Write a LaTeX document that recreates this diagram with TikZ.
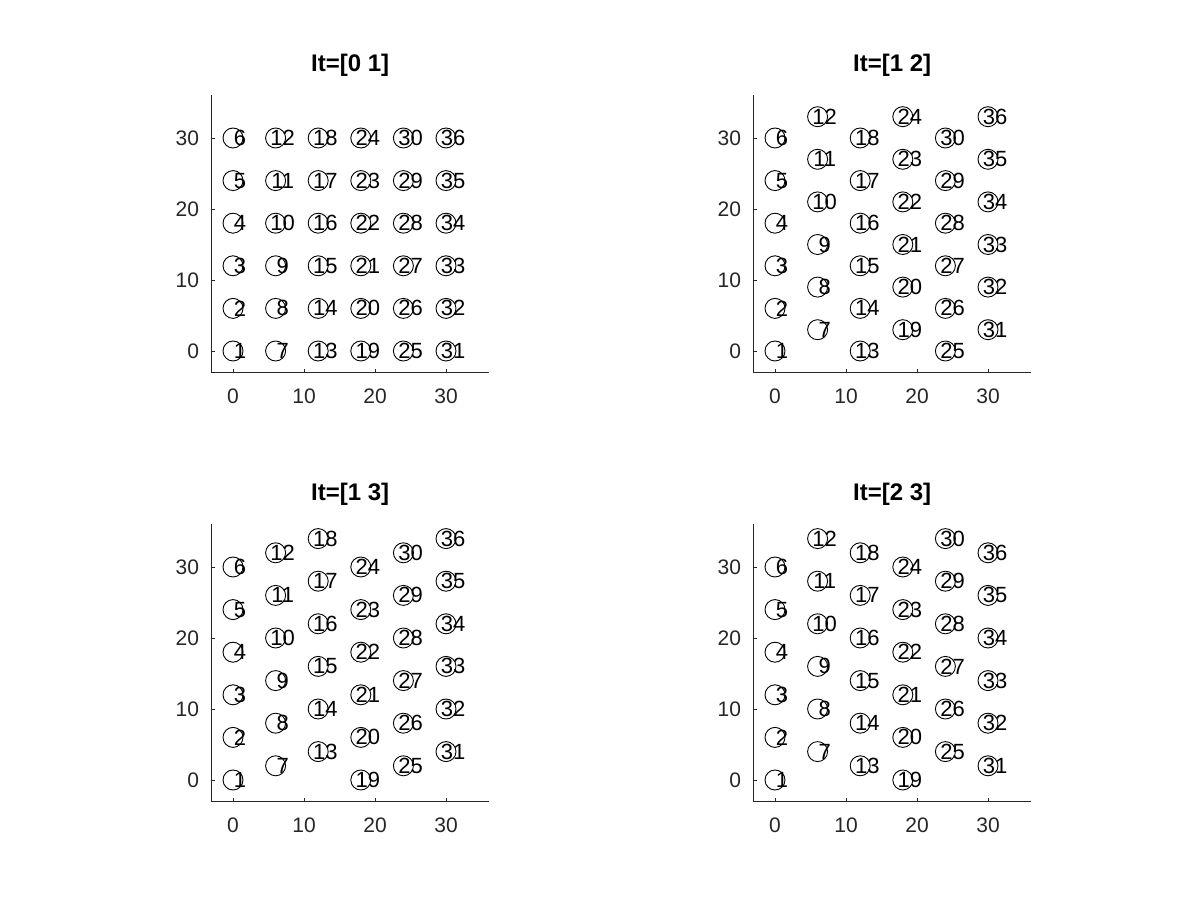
\documentclass[tikz,border=0pt]{standalone}
\usepackage{fontspec}
\setmainfont{Liberation Sans}
\usepackage{tikz}
\definecolor{axgray}{RGB}{38,38,38}
\tikzset{
    site/.style={
      circle,
           draw=black, line width=0.9pt,
           inner sep=0pt,
           minimum size=20pt,
           },
}
\tikzset{
    sitenum/.style={
           inner sep=0pt,
           text=black,
           font=\fontsize{22}{22}\selectfont,
           },
}
\tikzset{
    ticknum/.style={
           inner sep=0pt,
           text=axgray,
           font=\fontsize{21}{21}\selectfont,
           },
}
\tikzset{
    ttl/.style={
           inner sep=0pt,
           anchor=base,
           font=\fontsize{24}{24}\selectfont\bfseries,
           },
}
\tikzset{
    axline/.style={
           draw=axgray, line width=0.8pt,
           },
}
\newcommand{\drawpanel}[5]{%
\begin{scope}[shift={(#2pt,#3pt)},x=7.1pt,y=7.1pt]
\coordinate (#1-o) at (-3,-3);
\coordinate (#1-x) at (36,-3);
\coordinate (#1-y) at (-3,36);
\draw[axline] (#1-y) -- (#1-o) -- (#1-x);
\foreach \t in {0,10,20,30} {
  \draw[axline] (\t,-3) -- ++(0,0.4);
  \draw[axline] (-3,\t) -- ++(0.4,0);
  \node[ticknum,anchor=north,yshift=-16.4pt] (#1-xt\t) at (\t,-3) {\t};
  \node[ticknum,anchor=east,xshift=-12.4pt] (#1-yt\t) at (-3,\t) {\t};
}
\node[ttl,yshift=23.7pt] (#1-ttl) at (16.5,36) {#4};
\foreach \c/\off in {#5} {
  \foreach \r in {0,...,5} {
    \pgfmathtruncatemacro{\n}{6*\c+\r+1}
    \node[site] (#1-p\n) at (6*\c,6*\r+\off) {};
    \node[sitenum] (#1-n\n) at (6*\c+1,6*\r+\off) {\n};
  }
}
\end{scope}}

\begin{document}
\begin{tikzpicture}[x=1pt,y=1pt]
\useasboundingbox (0,0) rectangle (1200,900);

\drawpanel{a}{233}{549}{It=[0 1]}{0/0,1/0,2/0,3/0,4/0,5/0}
\drawpanel{b}{775}{549}{It=[1 2]}{0/0,1/3,2/0,3/3,4/0,5/3}
\drawpanel{c}{233}{120}{It=[1 3]}{0/0,1/2,2/4,3/0,4/2,5/4}
\drawpanel{d}{775}{120}{It=[2 3]}{0/0,1/4,2/2,3/0,4/4,5/2}

\end{tikzpicture}
\end{document}
